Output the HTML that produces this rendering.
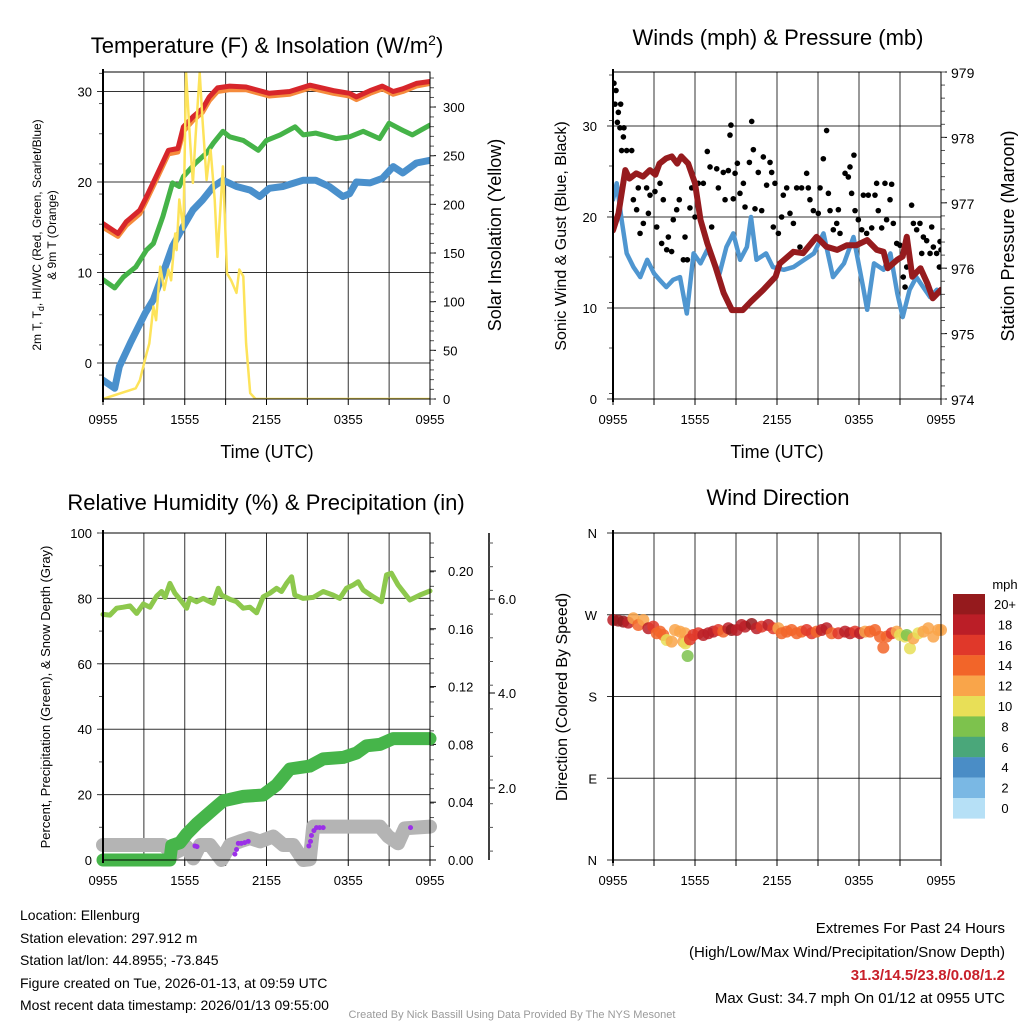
<!DOCTYPE html>
<html><head><meta charset="utf-8"><title>NYS Mesonet Ellenburg Meteogram</title>
<style>
html,body{margin:0;padding:0;background:#fff;}
svg{display:block;font-family:"Liberation Sans",Arial,sans-serif;}
</style></head>
<body>
<svg id="chart" xmlns="http://www.w3.org/2000/svg" width="1024" height="1024" viewBox="0 0 1024 1024">
<rect x="0" y="0" width="1024" height="1024" fill="#fff"/>
<text x="267" y="53" font-size="22" text-anchor="middle">Temperature (F) &amp; Insolation (W/m<tspan dy="-8" font-size="14">2</tspan><tspan dy="8">)</tspan></text>
<text x="778" y="45" font-size="22" text-anchor="middle">Winds (mph) &amp; Pressure (mb)</text>
<text x="266" y="510" font-size="22" text-anchor="middle">Relative Humidity (%) &amp; Precipitation (in)</text>
<text x="778" y="505" font-size="22" text-anchor="middle">Wind Direction</text>
<text x="267" y="458" font-size="18" text-anchor="middle">Time (UTC)</text>
<text x="777" y="458" font-size="18" text-anchor="middle">Time (UTC)</text>
<text transform="translate(41,235) rotate(-90)" font-size="12" text-anchor="middle">2m T, T<tspan font-size="9" dy="3">d</tspan><tspan dy="-3">, HI/WC (Red, Green, Scarlet/Blue)</tspan></text>
<text transform="translate(56,235) rotate(-90)" font-size="12" text-anchor="middle">&amp; 9m T (Orange)</text>
<text transform="translate(501,235) rotate(-90)" font-size="18" text-anchor="middle">Solar Insolation (Yellow)</text>
<text transform="translate(566,236) rotate(-90)" font-size="16" text-anchor="middle">Sonic Wind &amp; Gust (Blue, Black)</text>
<text transform="translate(1014,236) rotate(-90)" font-size="18" text-anchor="middle">Station Pressure (Maroon)</text>
<text transform="translate(50,697) rotate(-90)" font-size="13" text-anchor="middle">Percent, Precipitation (Green), &amp; Snow Depth (Gray)</text>
<text transform="translate(567,697) rotate(-90)" font-size="16" text-anchor="middle">Direction (Colored By Speed)</text>
<g font-size="14">
<text x="20" y="920">Location: Ellenburg</text>
<text x="20" y="943">Station elevation: 297.912 m</text>
<text x="20" y="965">Station lat/lon: 44.8955; -73.845</text>
<text x="20" y="988">Figure created on Tue, 2026-01-13, at 09:59 UTC</text>
<text x="20" y="1010">Most recent data timestamp: 2026/01/13 09:55:00</text>
</g>
<g font-size="15" text-anchor="end">
<text x="1005" y="933">Extremes For Past 24 Hours</text>
<text x="1005" y="957">(High/Low/Max Wind/Precipitation/Snow Depth)</text>
<text x="1005" y="980" fill="#c8202a" font-weight="bold">31.3/14.5/23.8/0.08/1.2</text>
<text x="1005" y="1003">Max Gust: 34.7 mph On 01/12 at 0955 UTC</text>
</g>
<text x="512" y="1018" font-size="11" fill="#9a9a9a" text-anchor="middle">Created By Nick Bassill Using Data Provided By The NYS Mesonet</text>
</svg>
<script>
const timeTickHours = [0, 6, 12, 18, 24];
const timeTickLabels = ["0955", "1555", "2155", "0355", "0955"];
const gridHours = [0, 3, 6, 9, 12, 15, 18, 21, 24];

const tempTicks = [0, 10, 20, 30];
const solarTicks = [0, 50, 100, 150, 200, 250, 300];
const redHours = [0,1.1,1.7,2.7,3.2,3.9,4.8,5.5,5.9,6.6,7.3,7.8,8.4,9.3,10.5,12.2,13.7,15.2,16.9,18.1,18.6,19.6,20.5,21.3,22,23,24];
const redTemp = [15.4,14.3,15.6,16.9,18.4,20.6,23.5,23.7,26.1,27.2,28.1,29.4,30.4,30.6,30.5,29.8,30.0,30.7,30.1,29.8,29.4,30.1,30.6,30.0,30.3,30.9,31.1];
const orangeTemp = [15.0,14.0,15.2,16.5,18.0,20.2,23.1,23.3,25.6,26.8,27.7,29.0,30.0,30.2,30.2,29.5,29.7,30.4,29.8,29.5,29.1,29.8,30.3,29.7,30.0,30.6,30.9];
const greenHours = [0,0.86,1.5,2.4,3.2,3.7,4.4,5.1,5.6,5.9,6.8,7.6,8.1,8.8,9.3,10.3,11.4,12,13,14.1,14.7,15.6,17.1,18.1,19.1,20.3,21,22,22.7,24];
const greenTemp = [9.2,8.3,9.5,10.6,12.5,13.2,16.2,19.9,19.5,20.6,22.1,23.2,24.3,25.6,25.0,24.6,23.5,24.6,25.2,26.1,25.2,25.4,24.8,25.0,25.6,24.8,26.5,25.7,25.2,26.3];
const blueHours = [0,0.86,1.2,2,3.1,3.7,4.4,5.1,5.9,6.6,7.3,8.1,8.8,9.8,10.8,11.5,12.2,13.2,14.7,15.6,16.6,17.6,18.1,18.6,19.6,20.5,21.3,22,23,24];
const blueTemp = [-1.9,-2.8,-0.4,2.2,5.5,7.0,9.9,12.9,15.1,16.9,18.0,19.5,20.2,19.5,19.1,18.4,19.3,19.5,20.2,20.2,19.5,18.4,18.7,20.0,19.9,20.4,21.7,21.0,22.1,22.4];
const solarHours = [0,2.4,2.7,3.2,3.4,3.7,3.9,4.2,4.5,4.8,5,5.3,5.4,5.6,5.9,6.1,6.4,6.6,6.8,7.1,7.3,7.6,7.8,7.9,8.2,8.4,8.8,9.1,9.4,9.8,10,10.3,10.5,10.8,11.2,12.2,24];
const solarValues = [0,11,19,47,57,95,81,136,112,133,122,170,153,205,174,335,263,222,270,335,287,225,249,256,205,146,239,129,122,109,133,126,57,6,0,0,0];

const windTicks = [0, 10, 20, 30];
const pressureTicks = [974, 975, 976, 977, 978, 979];
const pressHours = [0,0.4,0.9,1.2,1.7,2.2,2.7,3.1,3.4,3.9,4.3,4.7,5,5.5,6,6.4,6.9,7.5,8.1,8.7,9.5,10.1,11,11.9,12.2,13.2,13.9,14.9,15.6,16.4,17.1,17.8,18.6,19.3,19.8,20.1,20.8,21.2,21.5,21.9,22.5,23,23.4,24];
const pressValues = [976.58,976.84,977.50,977.37,977.45,977.40,977.50,977.43,977.60,977.68,977.71,977.60,977.71,977.60,977.30,976.74,976.38,976.02,975.62,975.36,975.36,975.49,975.67,975.87,976.07,976.25,976.23,976.48,976.33,976.28,976.35,976.35,976.43,976.28,976.25,976.00,976.13,976.18,976.48,975.87,976.00,975.77,975.54,975.67];
const windHours = [0,0.27,0.63,1,1.5,2,2.5,3,3.4,3.9,4.4,4.9,5.4,5.9,6.4,6.9,7.3,7.8,8.3,8.8,9.3,9.8,10.1,10.5,11.2,11.7,12.5,13.2,14,14.7,15.4,16.1,16.9,17.6,18.3,18.6,19.1,19.8,20.3,20.8,21.2,21.7,22.2,22.7,23.2,23.7,24];
const windSpeed = [21.9,23.7,19.7,16.0,14.5,13.4,15.3,13.8,13.1,12.3,13.1,13.4,9.4,16.0,14.9,16.4,15.3,13.8,16.7,18.2,15.3,16.7,20.0,15.3,16.0,14.5,14.2,14.5,15.3,16.0,18.2,13.4,14.9,17.8,12.3,9.8,14.9,14.2,16.0,11.6,9.0,12.0,13.4,12.3,11.2,12.0,11.6];
const gustHours = [0.07,0.22,0.15,0.39,0.32,0.56,0.51,0.80,0.76,0.63,1.0,1.37,1.12,1.49,1.85,1.73,1.98,2.22,2.46,2.71,2.59,3.07,3.2,3.44,3.56,3.68,3.93,4.05,4.29,4.41,4.66,4.85,5.15,5.27,5.44,5.63,5.76,6.0,6.24,6.61,6.9,7.1,7.22,7.59,7.71,8.07,8.2,8.44,8.63,8.56,8.8,8.93,9.1,9.29,9.54,9.66,9.98,10.15,10.27,10.39,10.63,10.88,11.0,11.24,11.49,11.61,11.85,11.73,12.1,12.34,12.46,12.71,12.95,13.2,13.44,13.68,13.8,14.17,14.29,14.41,14.66,15.02,15.15,15.39,15.63,15.76,15.88,16.12,16.37,16.49,16.61,16.98,17.22,17.34,17.46,17.63,17.71,17.95,18.2,18.32,18.56,18.68,18.93,19.17,19.29,19.41,19.66,19.9,20.02,20.27,20.39,20.51,20.76,21.0,21.24,21.37,21.49,21.85,21.98,22.22,22.46,22.59,22.71,22.95,23.2,23.32,23.44,23.68,23.93,24,23.88];
const gustSpeed = [34.7,33.9,32.4,31.5,30.4,32.4,29.8,29.8,28.8,27.3,27.3,27.3,24.3,21.9,23.2,20.8,18.2,19.3,23.2,22.4,20.4,22.8,18.9,23.7,17.1,21.9,16.4,17.8,16.2,19.7,20.8,21.9,15.3,17.8,15.3,21.0,23.2,20.0,23.7,23.7,27.2,25.5,18.9,25.3,23.2,24.9,21.9,25.1,30.1,29.0,22.0,24.8,25.9,22.6,23.7,21.1,26.0,30.5,27.4,20.9,24.9,20.7,26.6,23.5,26.0,24.9,23.7,18.9,18.2,20.0,22.4,23.2,20.4,19.3,23.2,16.7,23.2,24.8,23.2,21.9,20.7,20.4,23.2,26.4,29.5,22.6,20.7,18.6,19.3,20.8,18.2,24.8,24.4,25.5,22.6,26.8,20.7,19.7,18.6,22.4,18.2,22.4,18.8,22.4,23.7,20.7,18.8,23.7,19.7,21.9,23.6,19.3,17.1,16.9,13.4,12.3,14.5,21.3,19.3,18.6,19.3,16.0,17.8,17.4,16.0,18.9,16.7,16.0,17.3,16.4,14.5];

const pctTicks = [0, 20, 40, 60, 80, 100];
const precipTicks = [0.00, 0.04, 0.08, 0.12, 0.16, 0.20];
const precipTickLabels = ["0.00", "0.04", "0.08", "0.12", "0.16", "0.20"];
const snowTickLabels = ["2.0", "4.0", "6.0"];
const rhHours = [0,0.51,1.0,1.49,1.98,2.47,2.96,3.45,3.94,4.3,4.55,4.91,5.28,5.65,6.14,6.38,6.87,7.36,7.73,8.09,8.46,8.7,9.32,9.8,10.29,10.78,11.27,11.76,12.25,12.74,13.1,13.47,13.84,14.08,14.69,15.43,16.16,16.89,17.38,17.87,18.36,18.73,19.09,19.83,20.44,20.81,21.17,21.66,22.52,23.25,24];
const rhValues = [75.1,74.9,77.0,77.3,77.7,75.4,78.3,77.3,80.7,82.1,80.3,84.6,81.6,79.7,77.0,80.0,79.0,80.0,79.2,78.5,83.1,81.0,79.7,79.0,77.0,77.3,75.6,80.5,81.6,83.1,82.1,84.6,86.6,81.0,80.0,80.3,82.1,81.0,80.0,83.1,84.1,85.1,82.6,80.5,79.0,87.2,87.7,84.1,79.5,81.0,82.3];
const precipHours = [0,4.91,5.04,5.65,6.14,6.87,7.6,8.34,8.83,10.29,11.76,12.74,13.72,15.18,16.16,17.63,18.6,19.34,20.32,21.3,24];
const precipValues = [0,0,0.010,0.012,0.018,0.025,0.031,0.037,0.041,0.044,0.045,0.052,0.063,0.065,0.070,0.071,0.074,0.079,0.080,0.084,0.084];
const snowHours = [0,4.4,5.16,6.14,6.63,7.12,7.85,8.7,9.32,10.05,10.78,11.52,12.49,13.23,13.96,14.69,15.18,15.43,20.32,20.93,21.66,22.15,24];
const snowPct = [4.6,4.6,2.0,4.0,0.5,4.6,4.6,0,4.6,5.7,6.7,5.7,7.2,4.6,4.6,0,0.2,10.2,10.2,7.2,5.1,9.7,10.2];
const purpleHours = [6.75,6.9,9.68,9.8,9.93,10.15,10.4,10.66,15.11,15.23,15.3,15.48,15.67,15.9,16.16,22.57];
const purplePct = [4.3,4.1,1.8,3.2,5.1,5.1,5.3,5.7,4.3,5.7,7.5,9.0,9.9,9.9,9.9,9.9];

const dirTicks = [0, 90, 180, 270, 360];
const dirTickLabels = ["N", "E", "S", "W", "N"];
const dirHours = [0.02,0.39,0.76,1.12,1.49,1.85,2.22,2.59,2.95,3.2,3.44,3.68,3.93,4.29,4.54,4.9,5.27,5.15,5.3,5.46,5.63,5.88,6.24,6.61,6.98,7.34,7.71,8.07,8.44,8.68,9.05,9.41,9.66,10.15,10.51,10.88,11.37,11.73,12.1,12.34,12.71,13.07,13.44,13.8,14.17,14.54,14.9,15.27,15.63,16,16.49,16.98,17.34,17.71,18.07,18.44,18.8,19.17,19.54,19.78,20.02,20.39,20.76,21,21.37,21.49,21.73,21.98,22.34,22.71,23.07,23.44,23.8,24];
const dirDegrees = [264.2,263.5,262.4,261.3,266.1,258.7,264.2,255.1,256.9,249.6,251.4,247.7,242.2,240.4,253.2,251.4,249.6,240.4,238.5,224.6,242.9,247.7,249.6,247.7,249.6,251.4,253.2,251.4,255.1,253.2,253.2,258.7,256.9,259.8,255.1,256.9,258.7,255.1,255.1,249.6,251.4,253.2,249.6,251.4,253.2,249.6,251.4,253.2,255.1,249.6,249.6,251.4,249.6,251.4,249.6,251.4,251.4,253.2,245.9,233.8,245.9,249.6,251.4,247.7,245.9,247.7,233.0,244.0,249.6,251.4,255.1,245.9,253.2,253.2];
const dirSpeed = [18,20,20,18,12,14,12,18,16,14,14,14,10,12,12,12,12,12,10,8,16,16,16,18,18,18,16,14,18,20,18,18,18,20,18,16,18,16,12,14,14,14,14,14,16,16,14,18,18,14,16,18,18,16,18,12,14,14,14,14,14,16,12,10,10,8,10,12,10,12,12,12,12,12];
const speedBinLabels = ["20+","18","16","14","12","10","8","6","4","2","0"];
const speedBinColors = ["#951a1d","#bb1e27","#e0382a","#f26529","#f9a54a","#e8df57","#7dc24d","#4aa77a","#4a8dc6","#7ab8e4","#b6e0f6"];

const NS = "http://www.w3.org/2000/svg";
const svg = document.getElementById("chart");
function mk(tag, attrs, parent) {
  const e = document.createElementNS(NS, tag);
  for (const k in attrs) e.setAttribute(k, attrs[k]);
  (parent || svg).appendChild(e);
  return e;
}
function txt(x, y, s, size, anchor, parent) {
  const t = mk("text", {x: x, y: y, "font-size": size, "text-anchor": anchor}, parent);
  t.textContent = s;
  return t;
}
function lin(d0, d1, r0, r1) { return v => r0 + (v - d0) / (d1 - d0) * (r1 - r0); }
function pathD(hs, vs, xf, yf) {
  let d = "";
  for (let i = 0; i < hs.length; i++) d += (i ? "L" : "M") + xf(hs[i]).toFixed(1) + "," + yf(vs[i]).toFixed(1);
  return d;
}
function timeAxis(g, X, y0, y1) {
  gridHours.forEach(h => {
    const gl = mk("line", {x1: X(h), x2: X(h), y1: y0, y2: y1, stroke: "#000", "stroke-width": 1, "stroke-opacity": 0.8}, g);
    
    
    const tk = mk("line", {x1: X(h), x2: X(h), y1: y1, y2: y1 + 6, stroke: "#000", "stroke-width": 1}, g);
    
    
  });
  timeTickHours.forEach((h, i) => {
    const t = txt(X(h), y1 + 25, timeTickLabels[i], 13, "middle", g);
    
    
  });
}
function frame(g, x0, x1, y0, y1) {
  const r = mk("rect", {x: x0, y: y0, width: x1 - x0, height: y1 - y0, fill: "none", stroke: "#000", "stroke-width": 1}, g);
  
  
  const l = mk("line", {x1: x0, x2: x0, y1: y0 - 3, y2: y1 + 3, stroke: "#000", "stroke-width": 2}, g);
  
  
}
function hGrid(g, vals, Y, x0, x1, labels, lx) {
  vals.forEach((v, i) => {
    const gl = mk("line", {x1: x0 - 6, x2: x1, y1: Y(v), y2: Y(v), stroke: "#000", "stroke-width": 1, "stroke-opacity": 0.8}, g);
    
    
    const t = txt(lx, Y(v) + 5, labels[i], 13, "end", g);
    
    
  });
}
function minorTicks(g, x, y0, y1, step, dir) {
  for (let y = y0; y <= y1 + 0.1; y += step) {
    const m = mk("line", {x1: x, x2: x + dir * 4, y1: y, y2: y, stroke: "#555", "stroke-width": 1}, g);
    
    
  }
}
function addLine(g, hs, vs, X, Y, color, w, name) {
  const p = mk("path", {d: pathD(hs, vs, X, Y), fill: "none", stroke: color, "stroke-width": w, "stroke-linejoin": "round", "stroke-linecap": "round"}, g);
  
  
  return p;
}

(function () {
  const x0 = 103, x1 = 430, y0 = 72, y1 = 399;
  const X = lin(0, 24, x0, x1);
  const T = lin(0, 10, 363, 272.5);
  const S = lin(0, 300, 399, 107);
  const g = mk("g", {});
  
  
  const clip = mk("clipPath", {id: "c1"}, g);
  mk("rect", {x: x0, y: y0, width: x1 - x0, height: y1 - y0}, clip);
  timeAxis(g, X, y0, y1);
  hGrid(g, tempTicks, T, x0, x1, tempTicks.map(String), 92);
  minorTicks(g, x0, T(32), y1, 90.5 / 3, -1);
  solarTicks.forEach(v => {
    const tk = mk("line", {x1: x1, x2: x1 + 6, y1: S(v), y2: S(v), stroke: "#000"}, g);
    
    
    const t = txt(x1 + 13, S(v) + 5, String(v), 13, "start", g);
    
    
  });
  minorTicks(g, x1, y0 + 6, y1, 9.73, 1);
  const d = mk("g", {"clip-path": "url(#c1)"}, g);
  
  
  addLine(d, blueHours, blueTemp, X, T, "#4a90cc", 7, "windchill-line");
  addLine(d, greenHours, greenTemp, X, T, "#45b348", 5, "dewpoint-line");
  addLine(d, redHours, orangeTemp, X, T, "#f58b3c", 5, "9m-temperature-line");
  addLine(d, redHours, redTemp, X, T, "#d7262b", 5, "2m-temperature-line");
  addLine(d, solarHours, solarValues, X, S, "#fde35a", 2.5, "solar-insolation-line");
  frame(g, x0, x1, y0, y1);
})();

(function () {
  const x0 = 613, x1 = 941, y0 = 72, y1 = 399;
  const X = lin(0, 24, x0, x1);
  const W = lin(0, 10, 399, 308);
  const P = lin(974, 979, 399, 72);
  const g = mk("g", {});
  
  
  const clip = mk("clipPath", {id: "c2"}, g);
  mk("rect", {x: x0, y: y0, width: x1 - x0, height: y1 - y0}, clip);
  timeAxis(g, X, y0, y1);
  hGrid(g, windTicks, W, x0, x1, windTicks.map(String), 597);
  minorTicks(g, x0, y0 + 3, y1, 91 / 2, -1);
  pressureTicks.forEach(v => {
    const tk = mk("line", {x1: x1, x2: x1 + 6, y1: P(v), y2: P(v), stroke: "#000"}, g);
    
    
    const t = txt(x1 + 10, P(v) + 6, String(v), 14, "start", g);
    
    
  });
  minorTicks(g, x1, y0, y1, 65.4 / 5, 1);
  const d = mk("g", {"clip-path": "url(#c2)"}, g);
  
  
  addLine(d, windHours, windSpeed, X, W, "#4f96d0", 4.5, "sonic-wind-line");
  gustHours.forEach((h, i) => {
    const c = mk("circle", {cx: X(h), cy: W(gustSpeed[i]), r: 2.8, fill: "#000"}, d);
    
    
  });
  addLine(d, pressHours, pressValues, X, P, "#961b1e", 6, "pressure-line");
  frame(g, x0, x1, y0, y1);
})();

(function () {
  const x0 = 103, x1 = 430, y0 = 533, y1 = 860;
  const X = lin(0, 24, x0, x1);
  const H = lin(0, 100, 860, 533);
  const R = lin(0, 0.2, 860, 571);
  const g = mk("g", {});
  
  
  const clip = mk("clipPath", {id: "c3"}, g);
  mk("rect", {x: x0 - 8, y: y0, width: x1 - x0 + 16, height: y1 - y0 + 8}, clip);
  timeAxis(g, X, y0, y1);
  hGrid(g, pctTicks, H, x0, x1, pctTicks.map(String), 92);
  minorTicks(g, x0, y0, y1, 32.7, -1);
  precipTicks.forEach((v, i) => {
    const tk = mk("line", {x1: x1, x2: x1 + 6, y1: R(v), y2: R(v), stroke: "#000"}, g);
    
    
    const t = txt(x1 + 18, R(v) + 5, precipTickLabels[i], 13, "start", g);
    
    
  });
  minorTicks(g, x1, y0 + 10, y1, 14.45, 1);
  const sa = mk("line", {x1: 489, x2: 489, y1: 533, y2: 860, stroke: "#000", "stroke-width": 1.5}, g);
  
  
  const snowY = [788, 693, 599];
  snowTickLabels.forEach((s, i) => {
    const tk = mk("line", {x1: 489, x2: 495, y1: snowY[i], y2: snowY[i], stroke: "#000"}, g);
    
    
    const t = txt(498, snowY[i] + 5, s, 13, "start", g);
    
    
  });
  minorTicks(g, 489, 543, 860, 23.7, 1);
  const d = mk("g", {"clip-path": "url(#c3)"}, g);
  
  
  addLine(d, snowHours, snowPct, X, H, "#b4b4b4", 14, "snow-depth-line");
  addLine(d, precipHours, precipValues, X, R, "#46b54a", 13, "precipitation-line");
  purpleHours.forEach((h, i) => {
    const c = mk("circle", {cx: X(h), cy: H(purplePct[i]), r: 2.5, fill: "#9b30e8"}, d);
    
    
  });
  addLine(d, rhHours, rhValues, X, H, "#8dc84d", 5, "relative-humidity-line");
  frame(g, x0, x1, y0, y1);
})();

(function () {
  const x0 = 613, x1 = 941, y0 = 533, y1 = 860;
  const X = lin(0, 24, x0, x1);
  const D = lin(0, 360, 860, 533);
  const g = mk("g", {});
  
  
  timeAxis(g, X, y0, y1);
  hGrid(g, dirTicks, D, x0, x1, dirTickLabels, 597);
  const d = mk("g", {}, g);
  
  
  dirHours.forEach((h, i) => {
    const bin = Math.min(10, Math.floor(dirSpeed[i] / 2));
    const c = mk("circle", {cx: X(h), cy: D(dirDegrees[i]), r: 6, fill: speedBinColors[10 - bin], "fill-opacity": 0.85}, d);
    
    
  });
  frame(g, x0, x1, y0, y1);
  const cb = mk("g", {}, g);
  
  
  const ct = txt(1005, 589, "mph", 13, "middle", cb);
  
  
  speedBinColors.forEach((col, i) => {
    const y = 594 + i * 20.4;
    const r = mk("rect", {x: 953, y: y, width: 32, height: 20.6, fill: col}, cb);
    
    
    const t = txt(1005, y + 15, speedBinLabels[i], 13, "middle", cb);
    
    
  });
})();
</script>
</body></html>
